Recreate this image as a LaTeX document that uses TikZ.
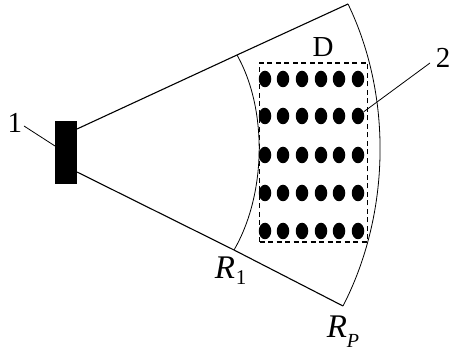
\documentclass[tikz,border=0pt]{standalone}
\usepackage{fontspec}
\setmainfont{Liberation Serif}
\usetikzlibrary{shapes.geometric}
\tikzset{
  wire/.style={line width=1.1pt,black},
  thinwire/.style={line width=0.8pt,black},
  dashbox/.style={draw,line width=1.1pt,dash pattern=on 5pt off 3.5pt,minimum width=108pt,minimum height=179pt,inner sep=0pt},
  dot/.style={ellipse,fill=black,minimum width=12.5pt,minimum height=16.5pt,inner sep=0pt},
  sensor/.style={rectangle,fill=black,minimum width=22pt,minimum height=63pt,inner sep=0pt},
  lab/.style={font=\fontsize{29}{29}\selectfont,inner sep=0pt,text=black},
  labi/.style={font=\fontsize{33}{33}\itshape\selectfont,inner sep=0pt,text=black},
  labs/.style={font=\fontsize{21}{21}\selectfont,inner sep=0pt,text=black},
  labsi/.style={font=\fontsize{20}{20}\itshape\selectfont,inner sep=0pt,text=black}
}
\begin{document}
\begin{tikzpicture}[x=1pt,y=-1pt]
\useasboundingbox (0,0) rectangle (449,352);
\node[sensor] (s) at (66,152.5) {};
\coordinate (st) at (77,129);
\coordinate (sb) at (77,172);
\coordinate (sl) at (55,146);
\coordinate (ot) at (348,4);
\coordinate (ob) at (343,306);
\coordinate (it) at (237,55);
\coordinate (ib) at (234,250);
\draw[wire] (st) -- (it) -- (ot);
\draw[wire] (sb) -- (ib) -- (ob);
\draw[thinwire] (ot) .. controls (393,97) and (390,215) .. (ob);
\draw[thinwire] (it) .. controls (268,110) and (266,195) .. (ib);
\node[dashbox] (d) at (313.5,152.5) {};
\foreach \y [count=\j] in {79,116,155,193,231}
  \foreach \x [count=\i] in {265,283,302,321,339,358}
    \node[dot] (p\i\j) at (\x,\y) {};
\node[lab] (l1) at (15,123) {1};
\coordinate (l1e) at (24,126);
\draw[thinwire] (l1e) -- (sl);
\node[lab] (l2) at (443,58) {2};
\coordinate (l2e) at (430,63);
\draw[thinwire] (l2e) -- (p62);
\node[lab] (dl) at (323,47) {D};
\node[labi] (r1) at (225,268) {R};
\node[labs] (r1s) at (241,278) {1};
\node[labi] (rp) at (337,327) {R};
\node[labsi] (rps) at (353,341) {P};
\end{tikzpicture}
\end{document}
